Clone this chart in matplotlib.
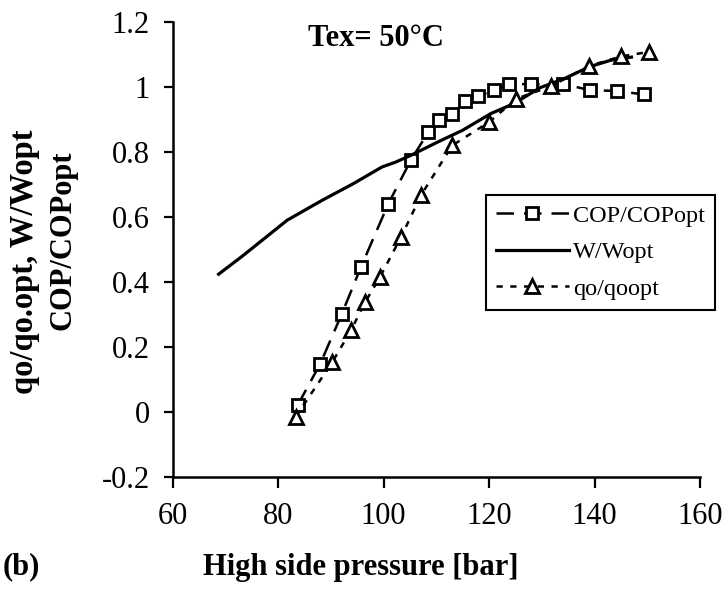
import matplotlib
matplotlib.use("Agg")
import matplotlib.pyplot as plt
from matplotlib.ticker import FuncFormatter

# data
cop_p = [83.7, 88.0, 92.1, 95.7, 100.9, 105.2, 108.5, 110.5, 113.0, 115.5,
         117.9, 121.0, 123.8, 128.0, 134.0, 139.1, 144.3, 149.3]
cop_v = [0.021, 0.149, 0.303, 0.446, 0.641, 0.776, 0.862, 0.899, 0.916, 0.957,
         0.972, 0.990, 1.010, 1.008, 1.010, 0.990, 0.988, 0.977]

w_p = [68.7, 73.0, 77.7, 81.7, 88.3, 94.3, 99.7, 102.3, 105.2, 110.3,
       115.0, 120.3, 124.7, 129.7, 134.3, 139.0, 143.0, 147.0]
w_v = [0.424, 0.477, 0.538, 0.590, 0.651, 0.703, 0.754, 0.769, 0.790, 0.831,
       0.867, 0.918, 0.949, 0.998, 1.026, 1.062, 1.082, 1.092]

qo_p = [83.3, 90.3, 93.8, 96.5, 99.3, 103.3, 107.1, 113.0, 120.0, 125.2,
        131.7, 139.0, 145.0, 150.3]
qo_v = [-0.015, 0.154, 0.251, 0.338, 0.415, 0.538, 0.667, 0.820, 0.892, 0.964,
        1.002, 1.065, 1.094, 1.108]

x_ticks = [60, 80, 100, 120, 140, 160]
y_ticks = [-0.2, 0, 0.2, 0.4, 0.6, 0.8, 1, 1.2]

plt.rcParams['font.family'] = ['Liberation Serif', 'DejaVu Serif']

fig = plt.figure(figsize=(7.26, 5.92), dpi=100)
ax = fig.add_axes([172.7 / 726, 1 - 477 / 592, (700 - 172.7) / 726, (477 - 22) / 592])

ax.plot(cop_p, cop_v, color='black', lw=1.8, dashes=(7, 4), marker='s', ms=8,
        mfc='white', mec='black', mew=2, label='COP/COPopt')
ax.plot(w_p, w_v, color='black', lw=2.3, label='W/Wopt')
ax.plot(qo_p, qo_v, color='black', lw=1.8, dashes=(2.5, 3), marker='^', ms=10,
        mfc='white', mec='black', mew=2, label='qo/qoopt')

ax.set_xlim(60, 160)
ax.set_ylim(-0.2, 1.2)
ax.set_xticks(x_ticks)
ax.set_yticks(y_ticks)
ax.yaxis.set_major_formatter(FuncFormatter(lambda v, pos: '%g' % round(v, 2)))

for s in ['top', 'right']:
    ax.spines[s].set_visible(False)
for s in ['left', 'bottom']:
    ax.spines[s].set_linewidth(1.8)
ax.tick_params(axis='both', direction='out', width=1.6, labelsize=22)
ax.tick_params(axis='x', length=8, pad=10)
ax.tick_params(axis='y', length=6.5, pad=10)

ax.text(376 / 726, 1 - 38 / 592, 'Tex= 50°C', transform=fig.transFigure,
        fontsize=22, fontweight='bold', ha='center', va='center')

leg = ax.legend(loc='upper left', bbox_to_anchor=(0.594, 0.62), fontsize=17.5,
                frameon=True, fancybox=False, edgecolor='black', framealpha=1,
                handlelength=3.0, labelspacing=0.6, borderpad=0.4,
                handletextpad=0.2, borderaxespad=0)
leg.get_frame().set_linewidth(1.5)

# axis labels
fig.text(361 / 726, 1 - 567 / 592, 'High side pressure [bar]', fontsize=22,
         fontweight='bold', ha='center', va='center')
fig.text(3 / 726, 1 - 567 / 592, '(b)', fontsize=22, fontweight='bold',
         ha='left', va='center')
fig.text(25 / 726, 1 - 262 / 592, 'qo/qo.opt, W/Wopt', fontsize=23.5,
         fontweight='bold', rotation=90, ha='center', va='center')
fig.text(63 / 726, 1 - 240 / 592, 'COP/COPopt', fontsize=22,
         fontweight='bold', rotation=90, ha='center', va='center')

fig.savefig('out.png', dpi=100, facecolor='white')
